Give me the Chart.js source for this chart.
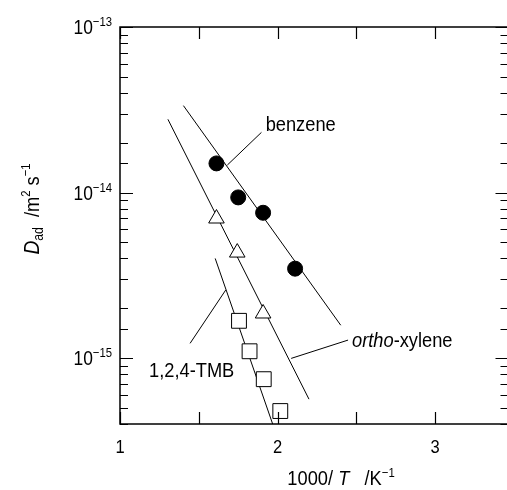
<!DOCTYPE html>
<html>
<head>
<meta charset="utf-8">
<script src="https://cdn.jsdelivr.net/npm/chart.js@4.4.1/dist/chart.umd.min.js"></script>
<style>
html, body { margin: 0; padding: 0; background: #fff; overflow: hidden; width: 507px; height: 490px; }
#wrap { position: relative; width: 507px; height: 490px; overflow: hidden; }
canvas { position: absolute; left: 0; top: 0; }
</style>
</head>
<body>
<div id="wrap"><canvas id="grafico" width="520" height="490"></canvas></div>
<script>
// measured points (1000/T, D_ad)
const benzeneX = [1.612, 1.750, 1.908, 2.111];
const benzeneD = [1.50e-14, 9.35e-15, 7.55e-15, 3.47e-15];
const xyleneX = [1.612, 1.744, 1.908];
const xyleneD = [6.97e-15, 4.34e-15, 1.86e-15];
const tmbX = [1.755, 1.822, 1.912, 2.017];
const tmbD = [1.68e-15, 1.10e-15, 7.46e-16, 4.79e-16];

// fitted lines, end points
const benzeneFitX = [1.4025, 2.4006];
const benzeneFitD = [3.35e-14, 1.58e-15];
const xyleneFitX = [1.304, 2.199];
const xyleneFitD = [2.77e-14, 5.65e-16];
const tmbFitX = [1.604, 1.9686];
const tmbFitD = [4.0e-15, 4.0e-16];

// leader lines to the labels
const benzeneLeadX = [1.681, 1.8975];
const benzeneLeadD = [1.466e-14, 2.31e-14];
const xyleneLeadX = [2.086, 2.447];
const xyleneLeadD = [9.96e-16, 1.285e-15];
const tmbLeadX = [1.671, 1.4447];
const tmbLeadD = [2.58e-15, 1.228e-15];

// label anchors (left edge, baseline)
const labelX = [1.924, 2.472, 1.184];
const labelD = [2.355e-14, 1.17e-15, 7.67e-16];

// axes
const xMin = 1, xMax = 3.465;
const yMin = 4.0e-16, yMax = 1e-13;
const xTickValues = [1, 1.5, 2, 2.5, 3];
const xTickLabels = ['1', '', '2', '', '3'];
const yLabelValues = [1e-13, 1e-14, 1e-15];
const yLabelExps = ['\u221213', '\u221214', '\u221215'];

const FONT = "'Liberation Sans', Arial, sans-serif";
const SX = 0.87; // narrow the glyphs a bit, the original type is condensed

function pts(xs, ys) {
    return xs.map((x, i) => ({ x: x, y: ys[i] }));
}

function lineSet(xs, ys) {
    return {
        data: pts(xs, ys),
        showLine: true,
        pointRadius: 0,
        borderColor: '#000',
        borderWidth: 1,
        order: 2
    };
}

// text made of pieces with different fonts / offsets
function runsWidth(ctx, runs) {
    let w = 0;
    runs.forEach(r => { ctx.font = r.f; w += ctx.measureText(r.t).width * SX; });
    return w;
}
function drawRuns(ctx, runs, x, y) {
    runs.forEach(r => {
        ctx.font = r.f;
        ctx.save();
        ctx.translate(x, y + (r.dy || 0));
        ctx.scale(SX, 1);
        ctx.fillText(r.t, 0, 0);
        ctx.restore();
        x += ctx.measureText(r.t).width * SX;
    });
}

const frame = {
    id: 'frame',
    afterDraw(chart) {
        const { ctx, chartArea: a, scales: { x, y } } = chart;
        ctx.save();
        ctx.strokeStyle = '#000';
        ctx.fillStyle = '#000';

        ctx.lineWidth = 1.5;
        ctx.strokeRect(a.left, a.top, a.right - a.left, a.bottom - a.top);

        // inward ticks
        ctx.lineWidth = 1.2;
        ctx.beginPath();
        y.ticks.forEach(t => {
            const py = Math.round(y.getPixelForValue(t.value)) + 0.5;
            const lg = Math.log10(t.value);
            const len = Math.abs(lg - Math.round(lg)) < 1e-6 ? 13 : 8;
            ctx.moveTo(a.left, py); ctx.lineTo(a.left + len, py);
            ctx.moveTo(a.right, py); ctx.lineTo(a.right - len, py);
        });
        x.ticks.forEach(t => {
            const px = Math.round(x.getPixelForValue(t.value)) + 0.5;
            ctx.moveTo(px, a.bottom); ctx.lineTo(px, a.bottom - 12);
            ctx.moveTo(px, a.top); ctx.lineTo(px, a.top + 12);
        });
        ctx.stroke();

        ctx.textBaseline = 'alphabetic';
        ctx.textAlign = 'left';

        // x tick labels
        xTickValues.forEach((v, i) => {
            if (!xTickLabels[i]) return;
            const runs = [{ t: xTickLabels[i], f: '19px ' + FONT }];
            drawRuns(ctx, runs, x.getPixelForValue(v) - runsWidth(ctx, runs) / 2, a.bottom + 29);
        });

        // y tick labels 10^n
        yLabelValues.forEach((v, i) => {
            const runs = [{ t: '10', f: '20px ' + FONT }, { t: yLabelExps[i], f: '13px ' + FONT, dy: -8 }];
            const w = runsWidth(ctx, runs);
            drawRuns(ctx, runs, a.left - 8 - w, y.getPixelForValue(v) + 7);
        });

        // x title
        const xt = [
            { t: '1000/ ', f: '21px ' + FONT },
            { t: 'T', f: 'italic 21px ' + FONT },
            { t: '   /K', f: '21px ' + FONT },
            { t: '\u22121', f: '13px ' + FONT, dy: -8 }
        ];
        drawRuns(ctx, xt, 341 - runsWidth(ctx, xt) / 2, 485);

        // y title
        const yt = [
            { t: 'D', f: 'italic 22px ' + FONT },
            { t: 'ad', f: '14px ' + FONT, dy: 4 },
            { t: '  /m', f: '21px ' + FONT },
            { t: '2', f: '13px ' + FONT, dy: -9 },
            { t: ' s', f: '21px ' + FONT },
            { t: '\u22121', f: '13px ' + FONT, dy: -9 }
        ];
        ctx.save();
        ctx.translate(39, 209);
        ctx.rotate(-Math.PI / 2);
        drawRuns(ctx, yt, -runsWidth(ctx, yt) / 2, 0);
        ctx.restore();

        // series labels
        const labels = [
            [{ t: 'benzene', f: '21px ' + FONT }],
            [{ t: 'ortho', f: 'italic 21px ' + FONT }, { t: '-xylene', f: '21px ' + FONT }],
            [{ t: '1,2,4-TMB', f: '21px ' + FONT }]
        ];
        labels.forEach((runs, i) => {
            drawRuns(ctx, runs, x.getPixelForValue(labelX[i]), y.getPixelForValue(labelD[i]));
        });

        ctx.restore();
    }
};

const data = {
    datasets: [
        {
            data: pts(benzeneX, benzeneD),
            pointStyle: 'circle',
            pointRadius: 7.5,
            backgroundColor: '#000',
            borderColor: '#000',
            borderWidth: 1,
            order: 0
        },
        {
            data: pts(xyleneX, xyleneD),
            pointStyle: 'triangle',
            pointRadius: 9,
            backgroundColor: '#fff',
            borderColor: '#000',
            borderWidth: 1,
            order: 0
        },
        {
            data: pts(tmbX, tmbD),
            pointStyle: 'rect',
            pointRadius: 10.5,
            backgroundColor: '#fff',
            borderColor: '#000',
            borderWidth: 1,
            order: 0
        },
        lineSet(benzeneFitX, benzeneFitD),
        lineSet(xyleneFitX, xyleneFitD),
        lineSet(tmbFitX, tmbFitD),
        lineSet(benzeneLeadX, benzeneLeadD),
        lineSet(xyleneLeadX, xyleneLeadD),
        lineSet(tmbLeadX, tmbLeadD)
    ]
};

const config = {
    type: 'scatter',
    data: data,
    options: {
        responsive: false,
        animation: false,
        events: [],
        layout: { padding: { top: 27, right: 8, left: 0, bottom: 0 } },
        scales: {
            x: {
                type: 'linear',
                min: xMin,
                max: xMax,
                grid: { display: false },
                border: { display: false },
                ticks: { display: false },
                afterBuildTicks: s => { s.ticks = xTickValues.map(v => ({ value: v })); },
                afterFit: s => { s.height = 66; }
            },
            y: {
                type: 'logarithmic',
                min: yMin,
                max: yMax,
                grid: { display: false },
                border: { display: false },
                ticks: { display: false },
                afterFit: s => { s.width = 120; }
            }
        },
        plugins: {
            legend: { display: false },
            tooltip: { enabled: false }
        }
    },
    plugins: [frame]
};

const grafico = new Chart(document.getElementById('grafico'), config);
</script>
</body>
</html>
